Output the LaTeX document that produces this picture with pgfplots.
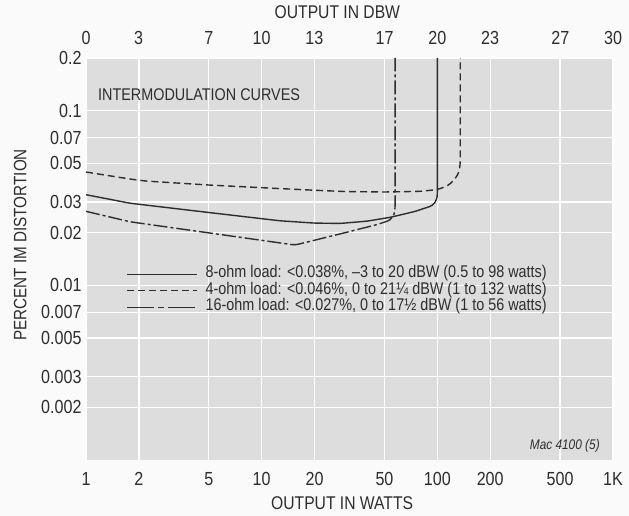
\documentclass[border=0pt]{standalone}
\usepackage{fontspec}
\setmainfont{Liberation Sans}[FakeStretch=0.85]
\usepackage{pgfplots}
\pgfplotsset{compat=1.18}
\definecolor{plotbg}{RGB}{221,221,221}
\definecolor{pagebg}{RGB}{250,250,250}
\definecolor{ink}{RGB}{45,45,45}

\pgfplotstableread{
x y
1 0.033
1.78 0.0295
5 0.0261
12.7 0.0234
20 0.0227
28 0.0226
40 0.0233
54 0.0245
75 0.0265
94 0.0286
99.5 0.031
100 0.034
100 0.2
}\eightohm

\pgfplotstableread{
x y
1 0.0445
1.8 0.0405
2.2 0.0395
5 0.0375
10 0.0362
20 0.0350
30 0.0344
50 0.0342
80 0.0345
100 0.0353
115 0.0372
126 0.0405
133 0.0445
135 0.050
135 0.2
}\fourohm

\pgfplotstableread{
x y
1 0.0265
1.78 0.0231
15.5 0.0170
28 0.0197
45 0.0222
54 0.0236
57 0.0255
57.5 0.028
57.5 0.2
}\sixteenohm

\begin{document}
\begin{tikzpicture}
\fill[pagebg] (-86bp,-56bp) rectangle (543bp,460bp);
\begin{axis}[
  at={(0,0)}, anchor=south west,
  scale only axis, width=527bp, height=402bp,
  xmode=log, ymode=log,
  xmin=1, xmax=1000, ymin=0.001, ymax=0.2,
  axis background/.style={fill=plotbg},
  axis line style={draw=none},
  major tick length=0pt, minor tick length=0pt,
  grid=major, grid style={white, line width=1.3bp},
  xtick={1,2,5,10,20,50,100,200,500,1000},
  xticklabels={1,2,5,10,20,50,100,200,500,1K},
  ytick={0.002,0.003,0.005,0.007,0.01,0.02,0.03,0.05,0.07,0.1,0.2},
  yticklabels={0.002,0.003,0.005,0.007,0.01,0.02,0.03,0.05,0.07,0.1,0.2},
  ticklabel style={font=\fontsize{19}{19}\selectfont, text=ink},
  xticklabel style={yshift=-9bp},
  yticklabel style={xshift=-1bp},
  xlabel={OUTPUT IN WATTS},
  xlabel style={font=\fontsize{18.5}{18.5}\selectfont, text=ink, at={(axis description cs:0.486,0)}, anchor=center, yshift=-43bp},
  ylabel={PERCENT IM DISTORTION},
  ylabel style={font=\fontsize{18}{18}\selectfont, text=ink, at={(axis description cs:-0.125,0.535)}, anchor=center},
  legend style={at={(axis cs:1.70,0.0128)}, anchor=north west, draw=none, fill=none,
    font=\fontsize{17}{17}\selectfont, text=ink, row sep=2bp, column sep=8bp, inner sep=0pt,
    nodes={inner sep=0bp, text height=11bp, text depth=3.5bp}},
  legend cell align=left,
  legend image code/.code={\draw[#1, line width=1bp] (0bp,0bp) -- (70bp,0bp);},
  clip=false,
]
\addplot[ink, line width=1.4bp, rounded corners=3bp] table {\eightohm};
\addlegendentry{8-ohm load: <0.038\%, –3 to 20 dBW (0.5 to 98 watts)}
\addplot[ink, line width=1.4bp, rounded corners=3bp, dash pattern=on 7bp off 4bp] table {\fourohm};
\addlegendentry{4-ohm load: <0.046\%, 0 to 21¼ dBW (1 to 132 watts)}
\addplot[ink, line width=1.4bp, rounded corners=3bp, dash pattern=on 14bp off 3bp on 3bp off 3bp,
  legend image code/.code={\draw[ink, line width=1bp, dash pattern=on 27bp off 4bp on 6bp off 4bp] (0bp,0bp) -- (70bp,0bp);}] table {\sixteenohm};
\addlegendentry{16-ohm load: <0.027\%, 0 to 17½ dBW (1 to 56 watts)}
\node[anchor=west, text=ink, font=\fontsize{17}{17}\selectfont] at (axis cs:1.12,0.124) {INTERMODULATION CURVES};
\node[anchor=east, text=ink, font=\fontsize{14}{14}\selectfont\itshape] at (axis cs:880,0.00121) {Mac 4100 (5)};
\end{axis}
\begin{axis}[
  at={(0,0)}, anchor=south west,
  scale only axis, width=527bp, height=402bp,
  xmin=0, xmax=30, ymin=0, ymax=1,
  axis x line*=top, hide y axis,
  axis line style={draw=none},
  major tick length=0pt,
  xtick={0,3,7,10,13,17,20,23,27,30},
  xticklabels={0,3,7,10,13,17,20,23,27,30},
  ticklabel style={font=\fontsize{19}{19}\selectfont, text=ink},
  xticklabel style={yshift=10bp},
  xlabel={OUTPUT IN DBW},
  xlabel style={font=\fontsize{18.5}{18.5}\selectfont, text=ink, at={(axis description cs:0.477,1)}, anchor=center, yshift=46bp},
]
\end{axis}
\pgfresetboundingbox
\path[use as bounding box] (-86bp,-56bp) rectangle (543bp,460bp);
\end{tikzpicture}
\end{document}
